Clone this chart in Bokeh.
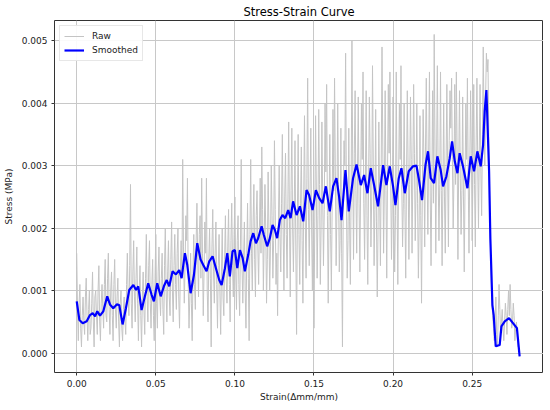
import numpy as np
from bokeh.plotting import figure
from bokeh.models import Range1d, FixedTicker, PrintfTickFormatter, Legend, LegendItem
from bokeh.embed import file_html
from bokeh.resources import INLINE

# ---- data ----
raw_step = 0.0005  # strain sampling of the raw record
# raw stress at strain 0.000, 0.001, ... 0.280
raw_stress_even = [
    0.0016, 0.0002, 0.0011, 0.0001, 0.0009, 0.0003, 0.0012, 0.0002, 0.0010, 0.0004,
    0.0013, 0.0001, 0.0010, 0.0003, 0.0014, 0.0002, 0.0011, 0.0004, 0.0015, 0.0005,
    0.0016, 0.0003, 0.0013, 0.0002, 0.0015, 0.0004, 0.0012, 0.0001, 0.0010, 0.0002,
    0.0009, 0.0003, 0.0016, 0.0006, 0.0027, 0.0004, 0.0018, 0.0005, 0.0017, 0.0002,
    0.0014, 0.0001, 0.0013, 0.0003, 0.0019, 0.0005, 0.0018, 0.0004, 0.0015, 0.0002,
    0.0019, 0.0004, 0.0017, 0.0006, 0.0016, 0.0003, 0.0020, 0.0005, 0.0018, 0.0006,
    0.0021, 0.0005, 0.0019, 0.0007, 0.0020, 0.0004, 0.0018, 0.0031, 0.0008, 0.0022,
    0.0028, 0.0004, 0.0016, 0.0002, 0.0019, 0.0007, 0.0024, 0.0009, 0.0022, 0.0028,
    0.0006, 0.0021, 0.0028, 0.0005, 0.0020, 0.0001, 0.0023, 0.0008, 0.0021, 0.0004,
    0.0019, 0.0003, 0.0020, 0.0006, 0.0022, 0.0008, 0.0023, 0.0005, 0.0024, 0.0009,
    0.0025, 0.0007, 0.0022, 0.0006, 0.0031, 0.0008, 0.0021, 0.0004, 0.0024, 0.0002,
    0.0031, 0.0010, 0.0027, 0.0009, 0.0026, 0.0011, 0.0028, 0.0033, 0.0010, 0.0027,
    0.0008, 0.0029, 0.0010, 0.0030, 0.0012, 0.0034, 0.0011, 0.0006, 0.0030, 0.0013,
    0.0035, 0.0010, 0.0032, 0.0012, 0.0037, 0.0009, 0.0036, 0.0013, 0.0034, 0.0003,
    0.0035, 0.0011, 0.0033, 0.0008, 0.0038, 0.0012, 0.0044, 0.0014, 0.0036, 0.0010,
    0.0004, 0.0038, 0.0012, 0.0039, 0.0011, 0.0037, 0.0014, 0.0040, 0.0043, 0.0008,
    0.0035, 0.0010, 0.0039, 0.0044, 0.0014, 0.0040, 0.0013, 0.0036, 0.0001, 0.0034,
    0.0048, 0.0012, 0.0036, 0.0011, 0.0050, 0.0015, 0.0042, 0.0016, 0.0041, 0.0013,
    0.0040, 0.0045, 0.0015, 0.0042, 0.0011, 0.0041, 0.0017, 0.0046, 0.0014, 0.0039,
    0.0009, 0.0037, 0.0014, 0.0049, 0.0016, 0.0042, 0.0012, 0.0043, 0.0045, 0.0015,
    0.0041, 0.0013, 0.0045, 0.0011, 0.0040, 0.0046, 0.0017, 0.0040, 0.0012, 0.0042,
    0.0015, 0.0041, 0.0016, 0.0043, 0.0018, 0.0040, 0.0012, 0.0038, 0.0008, 0.0039,
    0.0017, 0.0044, 0.0019, 0.0045, 0.0014, 0.0042, 0.0051, 0.0016, 0.0046, 0.0018,
    0.0045, 0.0014, 0.0040, 0.0016, 0.0043, 0.0017, 0.0042, 0.0044, 0.0020, 0.0043,
    0.0045, 0.0015, 0.0042, 0.0019, 0.0041, 0.0013, 0.0040, 0.0044, 0.0016, 0.0042,
    0.0018, 0.0043, 0.0017, 0.0044, 0.0020, 0.0043, 0.0022, 0.0049, 0.0030, 0.0048,
    0.0047, 0.0026, 0.0012, 0.0006, 0.0002, 0.0009, 0.0001, 0.0011, 0.0003, 0.0007,
    0.0002, 0.0008, 0.0003, 0.0010, 0.0011, 0.0004, 0.0008, 0.0002, 0.0005, 0.0001,
    -0.00005,
]
# raw stress at strain 0.0005, 0.0015, ... 0.2795
raw_stress_odd = [
    0.0007, 0.0008, 0.0004, 0.0006, 0.0005, 0.0009, 0.0006, 0.0007, 0.0003, 0.0008,
    0.0005, 0.0009, 0.0006, 0.0010, 0.0005, 0.0008, 0.0007, 0.0011, 0.0006, 0.0012,
    0.0007, 0.0010, 0.0006, 0.0011, 0.0007, 0.0009, 0.0005, 0.0008, 0.0004, 0.0007,
    0.0005, 0.0011, 0.0009, 0.0014, 0.0008, 0.0013, 0.0009, 0.0012, 0.0008, 0.0010,
    0.0006, 0.0009, 0.0007, 0.0012, 0.0009, 0.0014, 0.0008, 0.0011, 0.0006, 0.0012,
    0.0008, 0.0013, 0.0009, 0.0012, 0.0007, 0.0014, 0.0010, 0.0013, 0.0009, 0.0015,
    0.0010, 0.0014, 0.0011, 0.0016, 0.0009, 0.0013, 0.0012, 0.0017, 0.0014, 0.0018,
    0.0011, 0.0009, 0.0008, 0.0013, 0.0011, 0.0018, 0.0015, 0.0019, 0.0012, 0.0016,
    0.0013, 0.0016, 0.0010, 0.0015, 0.0012, 0.0017, 0.0013, 0.0016, 0.0011, 0.0014,
    0.0010, 0.0013, 0.0009, 0.0015, 0.0012, 0.0017, 0.0011, 0.0018, 0.0014, 0.0019,
    0.0013, 0.0018, 0.0011, 0.0017, 0.0014, 0.0015, 0.0010, 0.0016, 0.0012, 0.0019,
    0.0016, 0.0021, 0.0015, 0.0022, 0.0017, 0.0020, 0.0016, 0.0023, 0.0018, 0.0020,
    0.0015, 0.0020, 0.0017, 0.0022, 0.0018, 0.0023, 0.0016, 0.0021, 0.0019, 0.0024,
    0.0020, 0.0025, 0.0019, 0.0024, 0.0021, 0.0026, 0.0020, 0.0023, 0.0017, 0.0022,
    0.0019, 0.0024, 0.0018, 0.0025, 0.0021, 0.0028, 0.0023, 0.0026, 0.0020, 0.0024,
    0.0021, 0.0026, 0.0022, 0.0027, 0.0020, 0.0025, 0.0023, 0.0029, 0.0022, 0.0021,
    0.0019, 0.0024, 0.0026, 0.0029, 0.0023, 0.0027, 0.0018, 0.0016, 0.0024, 0.0030,
    0.0025, 0.0018, 0.0021, 0.0027, 0.0030, 0.0032, 0.0026, 0.0029, 0.0024, 0.0027,
    0.0031, 0.0024, 0.0028, 0.0022, 0.0027, 0.0032, 0.0025, 0.0030, 0.0023, 0.0021,
    0.0020, 0.0025, 0.0030, 0.0033, 0.0027, 0.0026, 0.0029, 0.0032, 0.0028, 0.0024,
    0.0023, 0.0022, 0.0026, 0.0029, 0.0031, 0.0027, 0.0024, 0.0023, 0.0028, 0.0030,
    0.0027, 0.0031, 0.0029, 0.0032, 0.0026, 0.0024, 0.0021, 0.0022, 0.0026, 0.0031,
    0.0033, 0.0029, 0.0032, 0.0025, 0.0027, 0.0024, 0.0033, 0.0031, 0.0029, 0.0027,
    0.0026, 0.0027, 0.0025, 0.0030, 0.0029, 0.0034, 0.0036, 0.0031, 0.0028, 0.0027,
    0.0032, 0.0030, 0.0028, 0.0026, 0.0025, 0.0027, 0.0031, 0.0028, 0.0030, 0.0032,
    0.0029, 0.0027, 0.0033, 0.0031, 0.0032, 0.0029, 0.0035, 0.0037, 0.0041, 0.0045,
    0.0035, 0.0018, 0.0008, 0.0004, 0.0005, 0.0003, 0.0006, 0.0007, 0.0005, 0.0004,
    0.0005, 0.0006, 0.0007, 0.0006, 0.0007, 0.0005, 0.0006, 0.0004, 0.0003, 0.0001,
]
raw_stress = np.empty(len(raw_stress_even) + len(raw_stress_odd))
raw_stress[0::2] = raw_stress_even
raw_stress[1::2] = raw_stress_odd
raw_strain = np.round(np.arange(len(raw_stress)) * raw_step, 4)

smooth_strain = [
    0.0000, 0.0017, 0.0038, 0.0063, 0.0084, 0.0101, 0.0116, 0.0130, 0.0147, 0.0168,
    0.0193, 0.0210, 0.0231, 0.0253, 0.0269, 0.0290, 0.0311, 0.0332, 0.0358, 0.0375,
    0.0389, 0.0410, 0.0431, 0.0452, 0.0474, 0.0488, 0.0509, 0.0531, 0.0551, 0.0569,
    0.0585, 0.0606, 0.0627, 0.0648, 0.0663, 0.0684, 0.0699, 0.0720, 0.0741, 0.0762,
    0.0783, 0.0800, 0.0821, 0.0838, 0.0859, 0.0880, 0.0901, 0.0916, 0.0937, 0.0952,
    0.0968, 0.0985, 0.1000, 0.1015, 0.1032, 0.1049, 0.1063, 0.1084, 0.1099, 0.1116,
    0.1133, 0.1147, 0.1169, 0.1183, 0.1204, 0.1221, 0.1238, 0.1253, 0.1267, 0.1284,
    0.1301, 0.1318, 0.1337, 0.1352, 0.1368, 0.1390, 0.1411, 0.1432, 0.1453, 0.1469,
    0.1491, 0.1512, 0.1533, 0.1554, 0.1575, 0.1600, 0.1621, 0.1642, 0.1659, 0.1674,
    0.1699, 0.1720, 0.1747, 0.1769, 0.1796, 0.1817, 0.1838, 0.1859, 0.1880, 0.1905,
    0.1937, 0.1958, 0.1979, 0.2000, 0.2015, 0.2036, 0.2053, 0.2074, 0.2099, 0.2126,
    0.2148, 0.2162, 0.2183, 0.2205, 0.2221, 0.2238, 0.2259, 0.2280, 0.2301, 0.2316,
    0.2337, 0.2358, 0.2373, 0.2390, 0.2407, 0.2421, 0.2442, 0.2470, 0.2491, 0.2512,
    0.2533, 0.2554, 0.2569, 0.2579, 0.2590, 0.2607, 0.2615, 0.2628, 0.2636, 0.2649,
    0.2674, 0.2685, 0.2706, 0.2733, 0.2758, 0.2783, 0.2800,
]
smooth_stress = [
    0.00083, 0.00053, 0.00048, 0.00051, 0.00061, 0.00064, 0.00059, 0.00067, 0.00060, 0.00067,
    0.00091, 0.00078, 0.00072, 0.00078, 0.00077, 0.00046, 0.00072, 0.00101, 0.00109, 0.00101,
    0.00107, 0.00069, 0.00091, 0.00112, 0.00093, 0.00083, 0.00112, 0.00091, 0.00107, 0.00117,
    0.00107, 0.00131, 0.00126, 0.00133, 0.00120, 0.00160, 0.00141, 0.00096, 0.00125, 0.00176,
    0.00150, 0.00141, 0.00131, 0.00147, 0.00155, 0.00136, 0.00117, 0.00109, 0.00136, 0.00160,
    0.00123, 0.00163, 0.00165, 0.00136, 0.00165, 0.00152, 0.00131, 0.00157, 0.00179, 0.00192,
    0.00176, 0.00184, 0.00203, 0.00189, 0.00171, 0.00184, 0.00205, 0.00197, 0.00184, 0.00213,
    0.00221, 0.00216, 0.00229, 0.00216, 0.00243, 0.00221, 0.00235, 0.00211, 0.00261, 0.00253,
    0.00229, 0.00261, 0.00248, 0.00240, 0.00267, 0.00227, 0.00267, 0.00280, 0.00250, 0.00213,
    0.00293, 0.00227, 0.00280, 0.00302, 0.00269, 0.00285, 0.00256, 0.00296, 0.00269, 0.00235,
    0.00301, 0.00269, 0.00299, 0.00267, 0.00237, 0.00280, 0.00296, 0.00256, 0.00291, 0.00299,
    0.00300, 0.00280, 0.00245, 0.00301, 0.00323, 0.00280, 0.00272, 0.00315, 0.00293, 0.00267,
    0.00283, 0.00312, 0.00339, 0.00307, 0.00288, 0.00320, 0.00299, 0.00264, 0.00315, 0.00291,
    0.00323, 0.00299, 0.00333, 0.00387, 0.00421, 0.00291, 0.00184, 0.00077, 0.00061, 0.00011,
    0.00013, 0.00043, 0.00051, 0.00056, 0.00048, 0.00040, -0.00005,
]

x_ticks = [0.00, 0.05, 0.10, 0.15, 0.20, 0.25]
y_ticks = [0.000, 0.001, 0.002, 0.003, 0.004, 0.005]

FONT = "DejaVu Sans"

p = figure(
    frame_width=489, frame_height=352,
    output_backend="svg", toolbar_location=None,
    x_range=Range1d(-0.01405, 0.2951), y_range=Range1d(-0.000309, 0.005323),
    min_border_left=49, min_border_right=0, min_border_top=20, min_border_bottom=29,
    title="Stress-Strain Curve",
)
p.title.align = "center"
p.title.text_font = FONT
p.title.text_font_size = "11.5px"
p.title.text_font_style = "normal"
p.title.text_color = "#000000"
p.title.standoff = 3

p.outline_line_color = "#333333"
p.outline_line_width = 1
p.background_fill_color = "white"
p.border_fill_color = "white"

for ax in (p.xaxis[0], p.yaxis[0]):
    ax.major_label_text_font = FONT
    ax.major_label_text_font_size = "9px"
    ax.major_label_text_color = "#222222"
    ax.axis_label_text_font = FONT
    ax.axis_label_text_font_size = "9px"
    ax.axis_label_text_font_style = "normal"
    ax.axis_label_text_color = "#222222"
    ax.axis_line_color = None
    ax.major_tick_line_color = "#333333"
    ax.major_tick_out = 3
    ax.major_tick_in = 0
    ax.minor_tick_line_color = None

p.xaxis.ticker = FixedTicker(ticks=x_ticks)
p.yaxis.ticker = FixedTicker(ticks=y_ticks)
p.xaxis.formatter = PrintfTickFormatter(format="%.2f")
p.yaxis.formatter = PrintfTickFormatter(format="%.3f")
p.xaxis.axis_label = "Strain(Δmm/mm)"
p.yaxis.axis_label = "Stress (MPa)"
p.xaxis.major_label_standoff = 4
p.yaxis.major_label_standoff = 4
p.xaxis.axis_label_standoff = 2
p.yaxis.axis_label_standoff = 5

p.xgrid.grid_line_color = "#c8c8c8"
p.ygrid.grid_line_color = "#c8c8c8"
p.xgrid.grid_line_width = 1
p.ygrid.grid_line_width = 1

r_raw = p.line(raw_strain, raw_stress, line_color="#c4c4c4", line_width=1)
r_smooth = p.line(smooth_strain, smooth_stress, line_color="#0000ff", line_width=2.2)

legend = Legend(
    items=[LegendItem(label="Raw", renderers=[r_raw]),
           LegendItem(label="Smoothed", renderers=[r_smooth])],
    location="top_left",
)
legend.margin = 5
legend.padding = 4
legend.spacing = 2
legend.label_height = 12
legend.glyph_height = 12
legend.glyph_width = 20
legend.label_standoff = 8
legend.label_text_font = FONT
legend.label_text_font_size = "9px"
legend.label_text_color = "#222222"
legend.border_line_color = "#d0d0d0"
legend.border_line_width = 1
legend.background_fill_alpha = 0.9
p.add_layout(legend)

open("out.html", "w").write(file_html(p, INLINE))
